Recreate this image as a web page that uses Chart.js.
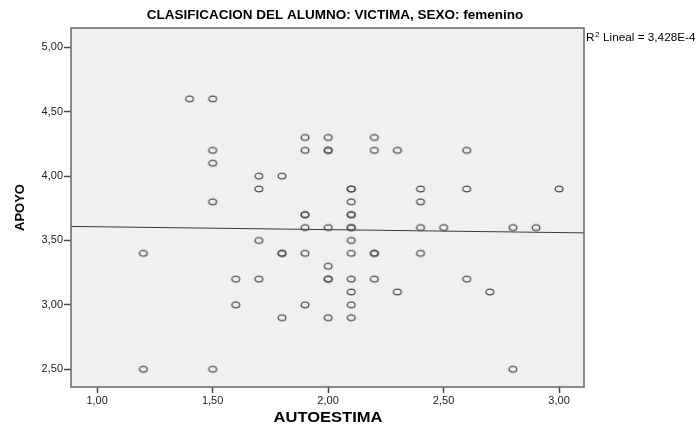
<!DOCTYPE html>
<html>
<head>
<meta charset="utf-8">
<script src="https://cdn.jsdelivr.net/npm/chart.js@4/dist/chart.umd.min.js"></script>
<style>
html,body{margin:0;padding:0;background:#fff;}
canvas{display:block;}
</style>
</head>
<body>
<canvas id="c" width="698" height="427"></canvas>
<script>
// ---- data ----
const chartTitle = "CLASIFICACION DEL ALUMNO: VICTIMA, SEXO: femenino";
const xTitle = "AUTOESTIMA";
const yTitle = "APOYO";
const fitLabel = ["R", "2", " Lineal = 3,428E-4"];

const autoestima = [
  1.2,1.2,
  1.4,
  1.5,1.5,1.5,1.5,1.5,
  1.6,1.6,
  1.7,1.7,1.7,1.7,
  1.8,1.8,1.8,1.8,
  1.9,1.9,1.9,1.9,1.9,1.9,1.9,
  2.0,2.0,2.0,2.0,2.0,2.0,2.0,2.0,
  2.1,2.1,2.1,2.1,2.1,2.1,2.1,2.1,2.1,2.1,2.1,2.1,2.1,
  2.2,2.2,2.2,2.2,2.2,
  2.3,2.3,
  2.4,2.4,2.4,2.4,
  2.5,
  2.6,2.6,2.6,
  2.7,
  2.8,2.8,
  2.9,
  3.0
];
const apoyo = [
  3.4,2.5,
  4.6,
  4.6,4.2,4.1,3.8,2.5,
  3.2,3.0,
  4.0,3.9,3.5,3.2,
  4.0,3.4,3.4,2.9,
  4.3,4.2,3.7,3.7,3.6,3.4,3.0,
  4.3,4.2,4.2,3.6,3.3,3.2,3.2,2.9,
  3.9,3.9,3.8,3.7,3.7,3.6,3.6,3.5,3.4,3.2,3.1,3.0,2.9,
  4.3,4.2,3.4,3.4,3.2,
  4.2,3.1,
  3.9,3.8,3.6,3.4,
  3.6,
  4.2,3.9,3.2,
  3.1,
  3.6,2.5,
  3.6,
  3.9
];
// fitted line (end points)
const fitX = [0.887, 3.108];
const fitY = [3.609, 3.559];
// axis ranges and ticks
const xRange = [0.887, 3.108];
const yRange = [2.362, 5.150];
const xTicks = [1.0, 1.5, 2.0, 2.5, 3.0];
const yTicks = [2.5, 3.0, 3.5, 4.0, 4.5, 5.0];

// ---- chart ----
const fmt = v => Number(v).toFixed(2).replace('.', ',');
const FONT = '"Liberation Sans", Arial, sans-serif';

const marker = document.createElement('canvas');
marker.width = 12; marker.height = 10;
(function(){
  const m = marker.getContext('2d');
  m.strokeStyle = '#505050';
  m.lineWidth = 1.3;
  m.beginPath();
  m.ellipse(6, 5, 3.9, 2.9, 0, 0, Math.PI * 2);
  m.stroke();
})();

function stretchedText(ctx, text, x, y, font, sx) {
  ctx.save();
  ctx.font = font;
  ctx.translate(x, y);
  ctx.scale(sx, 1);
  ctx.fillText(text, 0, 0);
  ctx.restore();
}

const frameAndText = {
  id: 'frameAndText',
  beforeDatasetsDraw(chart) {
    const {ctx, chartArea: a} = chart;
    ctx.save();
    ctx.fillStyle = '#f0f0f0';
    ctx.fillRect(a.left, a.top, a.right - a.left, a.bottom - a.top);
    ctx.restore();
  },
  afterDraw(chart) {
    const {ctx, chartArea: a} = chart;
    ctx.save();
    ctx.strokeStyle = '#6e6e6e';
    ctx.lineWidth = 1.6;
    ctx.strokeRect(a.left, a.top, a.right - a.left, a.bottom - a.top);
    ctx.fillStyle = '#000';
    ctx.textAlign = 'center';
    ctx.textBaseline = 'middle';
    // title
    stretchedText(ctx, chartTitle, 335, 16, 'bold 12.5px ' + FONT, 1.08);
    // x axis title
    stretchedText(ctx, xTitle, 328, 418, 'bold 14px ' + FONT, 1.18);
    // R2 label
    ctx.textAlign = 'left';
    ctx.textBaseline = 'alphabetic';
    ctx.translate(a.right + 2, 41);
    ctx.scale(1.12, 1);
    let x = 0;
    ctx.font = '10.5px ' + FONT;
    ctx.fillText(fitLabel[0], x, 0);
    x += ctx.measureText(fitLabel[0]).width;
    ctx.font = '7.5px ' + FONT;
    ctx.fillText(fitLabel[1], x + 0.5, -4);
    x += ctx.measureText(fitLabel[1]).width + 0.5;
    ctx.font = '10.5px ' + FONT;
    ctx.fillText(fitLabel[2], x, 0);
    ctx.restore();
  }
};

new Chart(document.getElementById('c'), {
  type: 'scatter',
  data: {
    datasets: [
      {
        type: 'scatter',
        data: autoestima.map((v, i) => ({x: v, y: apoyo[i]})),
        pointStyle: marker,
        pointRadius: 4,
        borderColor: '#505050',
        backgroundColor: 'rgba(0,0,0,0)'
      },
      {
        type: 'line',
        data: fitX.map((v, i) => ({x: v, y: fitY[i]})),
        borderColor: '#3a3a3a',
        borderWidth: 1,
        pointRadius: 0,
        fill: false,
        tension: 0
      }
    ]
  },
  options: {
    responsive: false,
    animation: false,
    devicePixelRatio: 1,
    layout: {padding: {left: 0, top: 28, right: 114, bottom: 0}},
    plugins: {legend: {display: false}, tooltip: {enabled: false}, title: {display: false}},
    scales: {
      x: {
        type: 'linear',
        min: xRange[0], max: xRange[1],
        afterBuildTicks: s => { s.ticks = xTicks.map(v => ({value: v})); },
        afterFit: s => { s.height = 40; },
        grid: {display: true, drawOnChartArea: false, drawTicks: true, tickLength: 6, tickColor: '#444', tickWidth: 1.5},
        border: {display: false},
        ticks: {callback: v => fmt(v), color: '#222', padding: 1, maxRotation: 0,
                font: {family: FONT, size: 11}},
        title: {display: false, text: xTitle}
      },
      y: {
        type: 'linear',
        min: yRange[0], max: yRange[1],
        afterBuildTicks: s => { s.ticks = yTicks.map(v => ({value: v})); },
        afterFit: s => { s.width = 71; },
        grid: {display: true, drawOnChartArea: false, drawTicks: true, tickLength: 7, tickColor: '#444', tickWidth: 1.5},
        border: {display: false},
        ticks: {callback: v => fmt(v), color: '#222', padding: 1,
                font: {family: FONT, size: 11}},
        title: {display: true, text: yTitle, color: '#000', padding: {top: 13, bottom: 0},
                font: {family: FONT, size: 13, weight: 'bold'}}
      }
    }
  },
  plugins: [frameAndText]
});
</script>
</body>
</html>
